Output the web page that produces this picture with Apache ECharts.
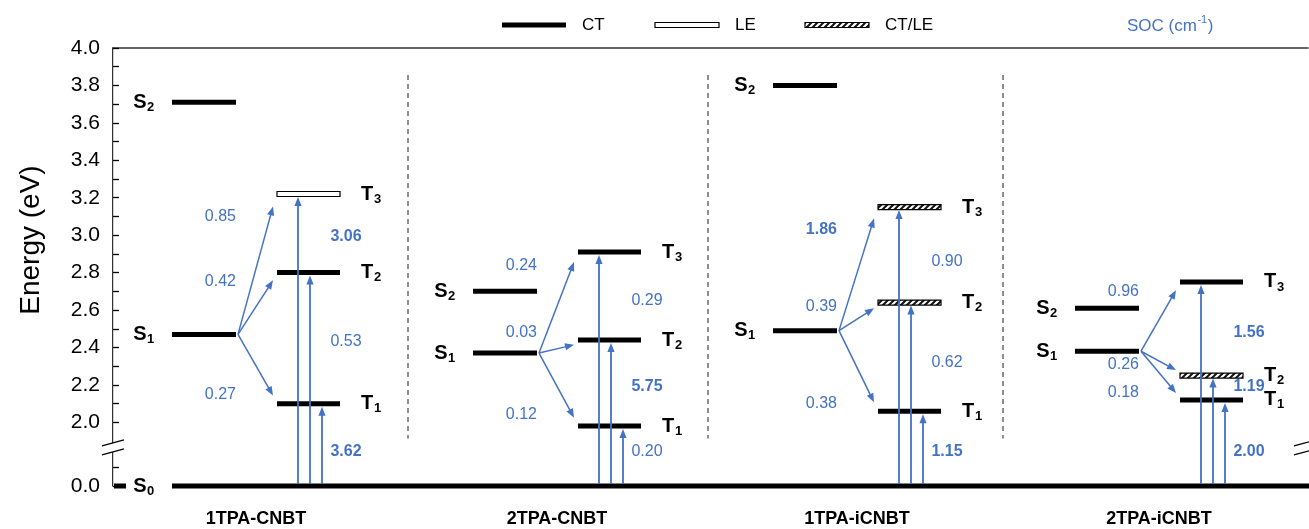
<!DOCTYPE html>
<html><head><meta charset="utf-8">
<script src="https://cdn.jsdelivr.net/npm/echarts@6/dist/echarts.min.js"></script>
<style>html,body{margin:0;padding:0;background:#fff}#c{width:1309px;height:529px}</style>
</head><body><div id="c"></div><script>
// ---------------- data ----------------
const panels = ['1TPA-CNBT', '2TPA-CNBT', '1TPA-iCNBT', '2TPA-iCNBT'];
const S0 = 0.0;
const S1 = [2.47, 2.37, 2.49, 2.38];
const S2 = [3.71, 2.70, 3.80, 2.61];
const T1 = [2.10, 1.98, 2.06, 2.12];
const T2 = [2.80, 2.44, 2.64, 2.25];
const T3 = [3.22, 2.91, 3.15, 2.75];
const S1Type = ['CT', 'CT', 'CT', 'CT'];
const S2Type = ['CT', 'CT', 'CT', 'CT'];
const T1Type = ['CT', 'CT', 'CT', 'CT'];
const T2Type = ['CT', 'CT', 'CT/LE', 'CT/LE'];
const T3Type = ['LE', 'CT', 'CT/LE', 'CT'];
const socS1T1 = [0.27, 0.12, 0.38, 0.18];
const socS1T2 = [0.42, 0.03, 0.39, 0.26];
const socS1T3 = [0.85, 0.24, 1.86, 0.96];
const socS0T1 = [3.62, 0.20, 1.15, 2.00];
const socS0T2 = [0.53, 5.75, 0.62, 1.19];
const socS0T3 = [3.06, 0.29, 0.90, 1.56];
const yTickLabels = ['0.0', '2.0', '2.2', '2.4', '2.6', '2.8', '3.0', '3.2', '3.4', '3.6', '3.8', '4.0'];
const yTickValues = [0.0, 0.1, 2.0, 2.1, 2.2, 2.3, 2.4, 2.5, 2.6, 2.7, 2.8, 2.9, 3.0, 3.1, 3.2, 3.3, 3.4, 3.5, 3.6, 3.7, 3.8, 3.9, 4.0];
const legendItems = ['CT', 'LE', 'CT/LE'];
const socTitle = 'SOC (cm';
const socSup = '-1';

// ---------------- layout / style ----------------
const FONT = '"Liberation Sans", Arial, Helvetica, sans-serif';
const BLUE = '#4472C4';
const BREAK = 1.66;                       // axis position that shows 0.0 eV (broken axis)
const ax = e => (e < 1 ? e + BREAK : e);  // energy -> axis coordinate
const PANEL_X = [59, 360, 660, 962];      // x-axis units (px inside grid)
const S_BAR = [0, 64], T_BAR = [105, 168];
const VARROW_X = [126, 138, 150];         // T3, T2, T1
const LEFT_LABEL_X = 64, RIGHT_LABEL_X = 174;
// label vertical layout (axis units) for S1->T3,T2,T1 and S0->T3,T2,T1
const leftLabelY = [[3.10, 2.75, 2.15], [2.84, 2.48, 2.04], [3.03, 2.62, 2.10], [2.70, 2.31, 2.16]];
const rightLabelY = [[2.99, 2.43, 1.845], [2.65, 2.19, 1.845], [2.86, 2.32, 1.845], [2.48, 2.19, 1.845]];
const SEP_X = [295, 595, 890];

function makeHatch() {
  const c = document.createElement('canvas'); c.width = 6; c.height = 6;
  const g = c.getContext('2d');
  g.fillStyle = '#fff'; g.fillRect(0, 0, 6, 6);
  g.strokeStyle = '#111'; g.lineWidth = 2;
  g.beginPath();
  g.moveTo(-1, 7); g.lineTo(7, -1);
  g.moveTo(-4, 4); g.lineTo(4, -4);
  g.moveTo(2, 10); g.lineTo(10, 2);
  g.stroke();
  return c;
}
const HATCH = makeHatch();
function levelStyle(type) {
  if (type === 'CT') return { fill: '#000' };
  if (type === 'LE') return { fill: '#fff', stroke: '#000', lineWidth: 1.2 };
  return { fill: { image: HATCH, repeat: 'repeat' }, stroke: '#000', lineWidth: 1.2 };
}

// ---------------- build items ----------------
const levels = [];
panels.forEach((name, p) => {
  const X = PANEL_X[p];
  levels.push({ x0: X + S_BAR[0], x1: X + S_BAR[1], e: S1[p], type: S1Type[p], letter: 'S', sub: '1', side: 'left' });
  levels.push({ x0: X + S_BAR[0], x1: X + S_BAR[1], e: S2[p], type: S2Type[p], letter: 'S', sub: '2', side: 'left' });
  levels.push({ x0: X + T_BAR[0], x1: X + T_BAR[1], e: T1[p], type: T1Type[p], letter: 'T', sub: '1', side: 'right' });
  levels.push({ x0: X + T_BAR[0], x1: X + T_BAR[1], e: T2[p], type: T2Type[p], letter: 'T', sub: '2', side: 'right' });
  levels.push({ x0: X + T_BAR[0], x1: X + T_BAR[1], e: T3[p], type: T3Type[p], letter: 'T', sub: '3', side: 'right' });
});
levels.push({ x0: PANEL_X[0], x1: 1200, e: S0, type: 'CT', letter: 'S', sub: '0', side: 'left' });

const arrows = [];
panels.forEach((name, p) => {
  const X = PANEL_X[p];
  [T3[p], T2[p], T1[p]].forEach((t, k) => {
    arrows.push({ kind: 'diag', x0: X + S_BAR[1] + 2, e0: S1[p], x1: X + T_BAR[0] - 4, e1: t });
    arrows.push({ kind: 'vert', x0: X + VARROW_X[k], e0: S0, x1: X + VARROW_X[k], e1: t });
  });
});

const socLabels = [];
panels.forEach((name, p) => {
  const X = PANEL_X[p];
  [socS1T3[p], socS1T2[p], socS1T1[p]].forEach((v, k) =>
    socLabels.push({ x: X + LEFT_LABEL_X, y: leftLabelY[p][k], v, align: 'right' }));
  [socS0T3[p], socS0T2[p], socS0T1[p]].forEach((v, k) =>
    socLabels.push({ x: X + RIGHT_LABEL_X, y: rightLabelY[p][k], v, align: 'center' }));
});

// ---------------- render helpers ----------------
function arrowEls(x0, y0, x1, y1, lw) {
  const dx = x1 - x0, dy = y1 - y0, L = Math.hypot(dx, dy) || 1, ux = dx / L, uy = dy / L;
  const hl = 9, hw = 3.6;
  const bx = x1 - ux * hl, by = y1 - uy * hl;
  return [
    { type: 'line', shape: { x1: x0, y1: y0, x2: bx + ux, y2: by + uy }, style: { stroke: BLUE, lineWidth: lw } },
    { type: 'polygon', shape: { points: [[x1, y1], [bx - uy * hw, by + ux * hw], [bx + uy * hw, by - ux * hw]] }, style: { fill: BLUE } }
  ];
}

function renderLevel(params, api) {
  const L = levels[params.dataIndex];
  const a = api.coord([L.x0, ax(L.e)]), b = api.coord([L.x1, ax(L.e)]);
  const h = 5;
  const ch = [{ type: 'rect', shape: { x: a[0], y: a[1] - h / 2, width: b[0] - a[0], height: h }, style: levelStyle(L.type) }];
  const mainFont = 'bold 20px ' + FONT, subFont = 'bold 13px ' + FONT;
  let mx, sx;
  if (L.side === 'left') { mx = a[0] - 32; sx = a[0] - 25; } else { mx = b[0] + 27; sx = b[0] + 34; }
  ch.push({ type: 'text', x: mx, y: a[1], style: { text: L.letter, font: mainFont, fill: '#000', align: 'center', verticalAlign: 'middle' } });
  ch.push({ type: 'text', x: sx, y: a[1] + 5, style: { text: L.sub, font: subFont, fill: '#000', align: 'left', verticalAlign: 'middle' } });
  if (L.e === S0) {
    const z = api.coord([0, ax(S0)]);
    ch.push({ type: 'rect', shape: { x: z[0] + 1, y: z[1] - h / 2, width: 12, height: h }, style: { fill: '#000' } });
  }
  return { type: 'group', children: ch };
}

function renderArrow(params, api) {
  const A = arrows[params.dataIndex];
  const s = api.coord([A.x0, ax(A.e0)]), t = api.coord([A.x1, ax(A.e1)]);
  if (A.kind === 'vert') {
    return { type: 'group', children: arrowEls(s[0], s[1] - 2, t[0], t[1] + 3, 1.8) };
  }
  const dy = t[1] - s[1];
  const off = Math.sign(dy) * (4 + 0.06 * Math.abs(dy));
  return { type: 'group', children: arrowEls(s[0], s[1], t[0], t[1] - off, 1.5) };
}

function renderSoc(params, api) {
  const S = socLabels[params.dataIndex];
  const p = api.coord([S.x, S.y]);
  return { type: 'text', x: p[0], y: p[1], style: { text: S.v.toFixed(2), font: (S.v > 1 ? 'bold ' : '') + '16px ' + FONT, fill: BLUE, align: S.align, verticalAlign: 'middle' } };
}

function renderPanelName(params, api) {
  const p = api.coord([PANEL_X[params.dataIndex] + 84, ax(S0)]);
  return { type: 'text', x: p[0], y: p[1] + 33, style: { text: panels[params.dataIndex], font: 'bold 18px ' + FONT, fill: '#000', align: 'center', verticalAlign: 'middle' } };
}

function renderSep(params, api) {
  const x = SEP_X[params.dataIndex];
  const a = api.coord([x, 3.856]), b = api.coord([x, 1.914]);
  return { type: 'line', shape: { x1: a[0], y1: a[1], x2: b[0], y2: b[1] }, style: { stroke: '#444', lineWidth: 1.2, lineDash: [5, 4] } };
}

function renderBreak(params, api) {
  const xs = params.dataIndex === 0 ? 0 : 1195;
  const c = api.coord([xs, 1.866]);
  const cx = c[0] + (params.dataIndex === 0 ? 0 : -3), cy = c[1];
  const w = 11, sl = 3;
  const up = [[cx - w, cy - 4.5 + sl], [cx + w, cy - 4.5 - sl]];
  const lo = [[cx - w, cy + 4.5 + sl], [cx + w, cy + 4.5 - sl]];
  return { type: 'group', children: [
    { type: 'polygon', shape: { points: [up[0], up[1], lo[1], lo[0]] }, style: { fill: '#fff' } },
    { type: 'line', shape: { x1: up[0][0], y1: up[0][1], x2: up[1][0], y2: up[1][1] }, style: { stroke: '#000', lineWidth: 1.3 } },
    { type: 'line', shape: { x1: lo[0][0], y1: lo[0][1], x2: lo[1][0], y2: lo[1][1] }, style: { stroke: '#000', lineWidth: 1.3 } }
  ] };
}

// ---------------- legend graphics ----------------
const meas = document.createElement('canvas').getContext('2d');
const legendX = [502, 655, 805];
const graphics = [];
legendItems.forEach((name, i) => {
  graphics.push({ type: 'rect', shape: { x: legendX[i], y: 22.5, width: 64, height: 5 }, style: levelStyle(name) });
  graphics.push({ type: 'text', x: legendX[i] + 80, y: 25, style: { text: name, font: '17px ' + FONT, fill: '#000', align: 'left', verticalAlign: 'middle' } });
});
meas.font = '17px ' + FONT;
const socW = meas.measureText(socTitle).width;
meas.font = '11px ' + FONT;
const supW = meas.measureText(socSup).width;
graphics.push({ type: 'text', x: 1127, y: 26, style: { text: socTitle, font: '17px ' + FONT, fill: BLUE, align: 'left', verticalAlign: 'middle' } });
graphics.push({ type: 'text', x: 1127 + socW + 0.5, y: 20, style: { text: socSup, font: '11px ' + FONT, fill: BLUE, align: 'left', verticalAlign: 'middle' } });
graphics.push({ type: 'text', x: 1127 + socW + supW + 1, y: 26, style: { text: ')', font: '17px ' + FONT, fill: BLUE, align: 'left', verticalAlign: 'middle' } });
graphics.push({ type: 'text', x: 31, y: 240, rotation: Math.PI / 2, style: { text: 'Energy (eV)', font: '28px ' + FONT, fill: '#000', align: 'center', verticalAlign: 'middle' } });

// ---------------- chart ----------------
const chart = echarts.init(document.getElementById('c'), null, { renderer: 'canvas', width: 1309, height: 529 });
const labelVals = yTickLabels.map(s => ax(parseFloat(s)));
const tickVals = yTickValues.map(ax);
const custom = (data, renderItem, z) => ({
  type: 'custom', coordinateSystem: 'cartesian2d', xAxisIndex: 0, yAxisIndex: 0,
  data, renderItem, clip: false, silent: true, z
});
chart.setOption({
  animation: false,
  backgroundColor: '#fff',
  grid: { left: 113, right: 1, top: 48, bottom: 43, containLabel: false, outerBoundsMode: 'none' },
  xAxis: [
    { type: 'value', min: 0, max: 1195, show: false },
    { type: 'value', min: 0, max: 1195, position: 'top', axisLine: { show: true, lineStyle: { color: '#333', width: 1.5 } }, axisTick: { show: false }, axisLabel: { show: false }, splitLine: { show: false } }
  ],
  yAxis: [
    {
      type: 'value', min: BREAK, max: 4.0,
      axisLine: { show: true, lineStyle: { color: '#000', width: 1.6 } },
      axisTick: { show: true, inside: true, length: 6, customValues: tickVals, lineStyle: { color: '#000', width: 1.3 } },
      axisLabel: {
        customValues: labelVals, margin: 13, fontSize: 21, color: '#000', fontFamily: FONT,
        formatter: v => (v < 1.9 ? Math.abs(v - BREAK) : v).toFixed(1)
      },
      splitLine: { show: false }
    },
    { type: 'value', min: BREAK, max: 4.0, position: 'right', axisLine: { show: true, lineStyle: { color: '#cfcfcf', width: 1 } }, axisTick: { show: false }, axisLabel: { show: false }, splitLine: { show: false } }
  ],
  graphic: graphics,
  series: [
    custom(SEP_X.map(x => [x, 2]), renderSep, 2),
    custom(levels.map(L => [L.x0, ax(L.e)]), renderLevel, 3),
    custom(arrows.map(A => [A.x0, ax(A.e0)]), renderArrow, 4),
    custom(socLabels.map(S => [S.x, S.y]), renderSoc, 5),
    custom(panels.map((n, i) => [PANEL_X[i], ax(S0)]), renderPanelName, 5),
    custom([[0, 1.866], [1195, 1.866]], renderBreak, 6)
  ]
});
</script></body></html>
